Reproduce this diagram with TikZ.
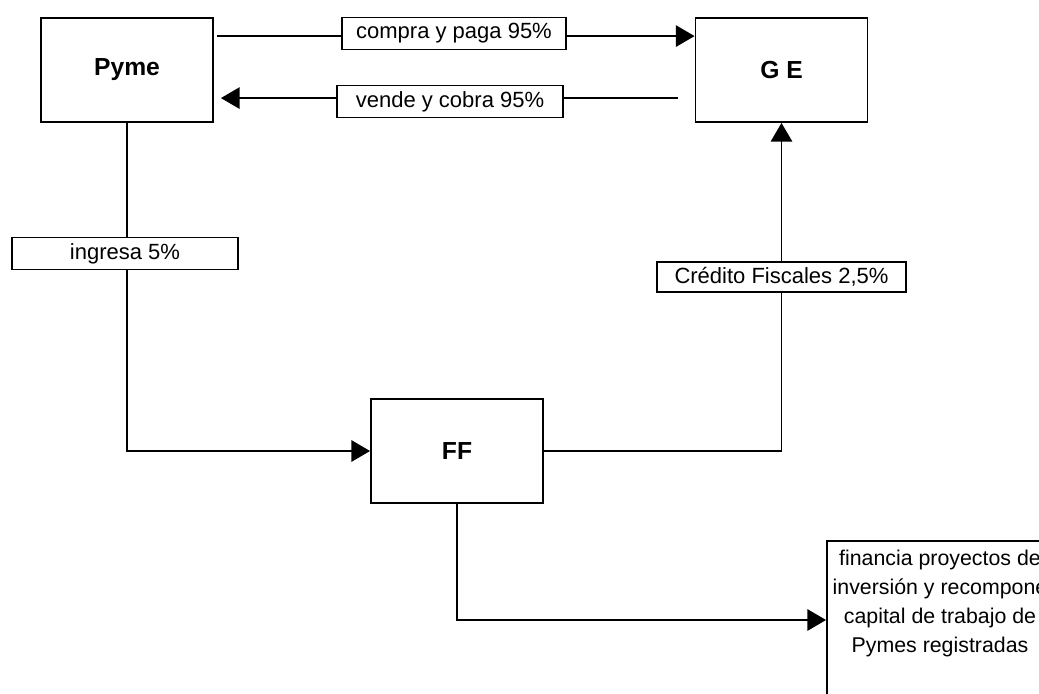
\documentclass[tikz,border=0pt]{standalone}
\usepackage{fontspec}
\setmainfont{Liberation Sans}
\usetikzlibrary{arrows.meta}
\tikzset{
    caja/.style={draw, line width=1.4pt, minimum width=129pt, minimum height=78pt, font=\fontsize{18.5}{22}\selectfont\bfseries},
    etiq/.style={draw, fill=white, line width=1.4pt, inner sep=0pt, minimum height=24pt, font=\fontsize{16.5}{21.75}\selectfont},
    flecha/.style={line width=1.4pt, -{Triangle[length=14pt, width=16pt]}}
}
\begin{document}
\begin{tikzpicture}[x=0.75pt, y=-0.75pt]
        \clip (0, 0) rectangle (1039, 693);

        \node[caja] (pyme) at (127, 70) {Pyme};
        \node[caja] (ge) at (781.5, 70) {G E};
        \node[caja] (ff) at (457, 451) {FF};
        \node[draw, line width=1.4pt, minimum width=169.5pt, minimum height=118.5pt] (fin) at (940, 620) {};

        \draw[flecha]([shift={(3, 19)}]pyme.north east)--([shift={(0, 19)}]ge.north west);
        \draw[flecha]([shift={(-17, 81)}]ge.north west)--([shift={(7, 81)}]pyme.north east);
        \draw[flecha](pyme.south)|-(ff.west);
        \draw[flecha](ff.east)-|(ge.south);
        \draw[flecha](ff.south)|-(fin.west);

        \node[etiq, minimum width=168pt] (compra) at (454, 33.5) {compra y paga 95\%};
        \node[etiq, minimum width=169.5pt] (vende) at (450, 101.5) {vende y cobra 95\%};
        \node[etiq, minimum width=169.5pt] (ingresa) at (125, 253.5) {ingresa 5\%};
        \node[etiq, minimum width=186.75pt, minimum height=22.5pt] (credito) at (781.5, 277) {Crédito Fiscales 2,5\%};
        \node[align=center, font=\fontsize{16}{21.75}\selectfont] (fintexto) at (940, 603) {financia proyectos de\\inversión y recompone\\capital de trabajo de\\Pymes registradas};
    \end{tikzpicture}
\end{document}
